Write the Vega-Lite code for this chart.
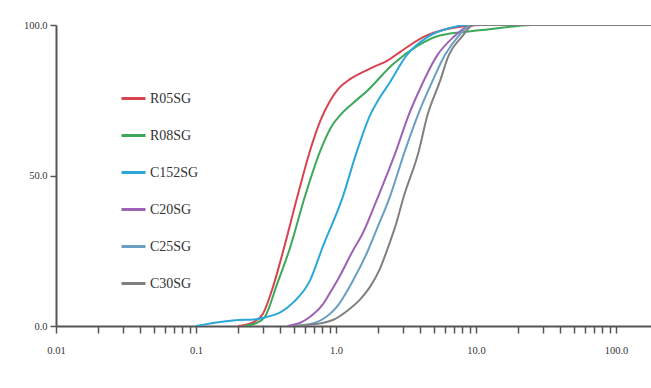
{
  "$schema": "https://vega.github.io/schema/vega-lite/v6.json",
  "width": 595,
  "height": 301,
  "autosize": {"type": "none"},
  "padding": {"left": 56, "top": 25, "right": 0, "bottom": 62},
  "background": "white",
  "config": {
    "view": {"stroke": null},
    "axis": {
      "domainColor": "#555555",
      "domainWidth": 2,
      "tickColor": "#555555",
      "tickWidth": 1.5,
      "grid": false,
      "labelFont": "Liberation Serif",
      "labelFontSize": 10.5,
      "labelColor": "#333333",
      "title": null
    }
  },
  "data": {
    "values": [
      {"s": "R05SG", "x": 0.2, "y": 0}, {"s": "R05SG", "x": 0.25, "y": 1}, {"s": "R05SG", "x": 0.3, "y": 4}, {"s": "R05SG", "x": 0.355, "y": 13}, {"s": "R05SG", "x": 0.42, "y": 25}, {"s": "R05SG", "x": 0.53, "y": 43}, {"s": "R05SG", "x": 0.65, "y": 58}, {"s": "R05SG", "x": 0.77, "y": 68}, {"s": "R05SG", "x": 0.9, "y": 74.5}, {"s": "R05SG", "x": 1.05, "y": 79}, {"s": "R05SG", "x": 1.26, "y": 82}, {"s": "R05SG", "x": 1.5, "y": 84}, {"s": "R05SG", "x": 1.84, "y": 86}, {"s": "R05SG", "x": 2.3, "y": 88}, {"s": "R05SG", "x": 2.86, "y": 91}, {"s": "R05SG", "x": 4.2, "y": 96}, {"s": "R05SG", "x": 6, "y": 98.5}, {"s": "R05SG", "x": 8, "y": 99.5}, {"s": "R05SG", "x": 11, "y": 100}, {"s": "R05SG", "x": 178, "y": 100},
      {"s": "R08SG", "x": 0.22, "y": 0}, {"s": "R08SG", "x": 0.27, "y": 1}, {"s": "R08SG", "x": 0.31, "y": 3}, {"s": "R08SG", "x": 0.38, "y": 14}, {"s": "R08SG", "x": 0.47, "y": 26}, {"s": "R08SG", "x": 0.6, "y": 43}, {"s": "R08SG", "x": 0.77, "y": 58}, {"s": "R08SG", "x": 0.95, "y": 67}, {"s": "R08SG", "x": 1.07, "y": 70}, {"s": "R08SG", "x": 1.32, "y": 74}, {"s": "R08SG", "x": 1.66, "y": 78}, {"s": "R08SG", "x": 2.55, "y": 87}, {"s": "R08SG", "x": 3.8, "y": 93}, {"s": "R08SG", "x": 5.5, "y": 96.5}, {"s": "R08SG", "x": 11, "y": 98.3}, {"s": "R08SG", "x": 20, "y": 99.7}, {"s": "R08SG", "x": 25, "y": 100}, {"s": "R08SG", "x": 178, "y": 100},
      {"s": "C152SG", "x": 0.1, "y": 0}, {"s": "C152SG", "x": 0.14, "y": 1.2}, {"s": "C152SG", "x": 0.2, "y": 2}, {"s": "C152SG", "x": 0.26, "y": 2.2}, {"s": "C152SG", "x": 0.32, "y": 3}, {"s": "C152SG", "x": 0.4, "y": 4.5}, {"s": "C152SG", "x": 0.5, "y": 8}, {"s": "C152SG", "x": 0.65, "y": 15}, {"s": "C152SG", "x": 0.8, "y": 26}, {"s": "C152SG", "x": 1.12, "y": 43}, {"s": "C152SG", "x": 1.41, "y": 58}, {"s": "C152SG", "x": 1.75, "y": 70}, {"s": "C152SG", "x": 2.0, "y": 75}, {"s": "C152SG", "x": 2.43, "y": 81}, {"s": "C152SG", "x": 3.2, "y": 90}, {"s": "C152SG", "x": 4.5, "y": 96}, {"s": "C152SG", "x": 6.5, "y": 99}, {"s": "C152SG", "x": 8.6, "y": 100}, {"s": "C152SG", "x": 178, "y": 100},
      {"s": "C20SG", "x": 0.45, "y": 0}, {"s": "C20SG", "x": 0.55, "y": 1}, {"s": "C20SG", "x": 0.65, "y": 3}, {"s": "C20SG", "x": 0.8, "y": 7}, {"s": "C20SG", "x": 0.906, "y": 11}, {"s": "C20SG", "x": 1.02, "y": 15}, {"s": "C20SG", "x": 1.32, "y": 25}, {"s": "C20SG", "x": 1.56, "y": 31}, {"s": "C20SG", "x": 1.96, "y": 42}, {"s": "C20SG", "x": 2.68, "y": 58}, {"s": "C20SG", "x": 3.3, "y": 70}, {"s": "C20SG", "x": 4.0, "y": 79}, {"s": "C20SG", "x": 5.3, "y": 90}, {"s": "C20SG", "x": 6.9, "y": 96}, {"s": "C20SG", "x": 8.3, "y": 99}, {"s": "C20SG", "x": 10, "y": 100}, {"s": "C20SG", "x": 178, "y": 100},
      {"s": "C25SG", "x": 0.5, "y": 0}, {"s": "C25SG", "x": 0.7, "y": 1}, {"s": "C25SG", "x": 0.85, "y": 3}, {"s": "C25SG", "x": 1.0, "y": 6}, {"s": "C25SG", "x": 1.32, "y": 15}, {"s": "C25SG", "x": 1.69, "y": 25}, {"s": "C25SG", "x": 1.95, "y": 32}, {"s": "C25SG", "x": 2.43, "y": 43}, {"s": "C25SG", "x": 3.1, "y": 58}, {"s": "C25SG", "x": 3.84, "y": 70}, {"s": "C25SG", "x": 4.85, "y": 81}, {"s": "C25SG", "x": 6.0, "y": 90}, {"s": "C25SG", "x": 7.4, "y": 96}, {"s": "C25SG", "x": 9.3, "y": 100}, {"s": "C25SG", "x": 178, "y": 100},
      {"s": "C30SG", "x": 0.5, "y": 0}, {"s": "C30SG", "x": 0.8, "y": 1}, {"s": "C30SG", "x": 0.95, "y": 2}, {"s": "C30SG", "x": 1.2, "y": 5}, {"s": "C30SG", "x": 1.5, "y": 9}, {"s": "C30SG", "x": 1.75, "y": 13}, {"s": "C30SG", "x": 2.06, "y": 19}, {"s": "C30SG", "x": 2.35, "y": 26}, {"s": "C30SG", "x": 2.65, "y": 33}, {"s": "C30SG", "x": 3.05, "y": 43}, {"s": "C30SG", "x": 3.9, "y": 58}, {"s": "C30SG", "x": 4.5, "y": 70}, {"s": "C30SG", "x": 5.5, "y": 81}, {"s": "C30SG", "x": 6.4, "y": 90}, {"s": "C30SG", "x": 7.9, "y": 96}, {"s": "C30SG", "x": 9.6, "y": 100}, {"s": "C30SG", "x": 178, "y": 100}
    ]
  },
  "mark": {"type": "line", "interpolate": "monotone", "strokeWidth": 2, "clip": true},
  "encoding": {
    "x": {
      "field": "x",
      "type": "quantitative",
      "scale": {"type": "log", "domain": [0.01, 178], "nice": false},
      "axis": {
        "values": [0.01, 0.02, 0.03, 0.04, 0.05, 0.06, 0.07, 0.08, 0.09, 0.1, 0.2, 0.3, 0.4, 0.5, 0.6, 0.7, 0.8, 0.9, 1, 2, 3, 4, 5, 6, 7, 8, 9, 10, 20, 30, 40, 50, 60, 70, 80, 90, 100],
        "labelExpr": "datum.value == 0.01 ? '0.01' : datum.value == 0.1 ? '0.1' : datum.value == 1 ? '1.0' : datum.value == 10 ? '10.0' : datum.value == 100 ? '100.0' : ''",
        "tickSize": 7,
        "labelPadding": 12,
        "labelFlush": false,
        "labelOverlap": false
      }
    },
    "y": {
      "field": "y",
      "type": "quantitative",
      "scale": {"domain": [0, 100], "nice": false},
      "axis": {"values": [0, 50, 100], "format": ".1f", "tickSize": 6, "labelPadding": 3}
    },
    "color": {
      "field": "s",
      "type": "nominal",
      "sort": ["R05SG", "R08SG", "C152SG", "C20SG", "C25SG", "C30SG"],
      "scale": {
        "domain": ["R05SG", "R08SG", "C152SG", "C20SG", "C25SG", "C30SG"],
        "range": ["#d7434f", "#3ea85a", "#2ba8d8", "#9c62b3", "#6a9fc2", "#808080"]
      },
      "legend": {
        "title": null,
        "orient": "none",
        "legendX": 64,
        "legendY": 60,
        "symbolType": "stroke",
        "symbolSize": 576,
        "symbolStrokeWidth": 3,
        "labelFont": "Liberation Serif",
        "labelFontSize": 14,
        "labelColor": "#333333",
        "labelOffset": 3,
        "rowPadding": 16
      }
    }
  }
}
